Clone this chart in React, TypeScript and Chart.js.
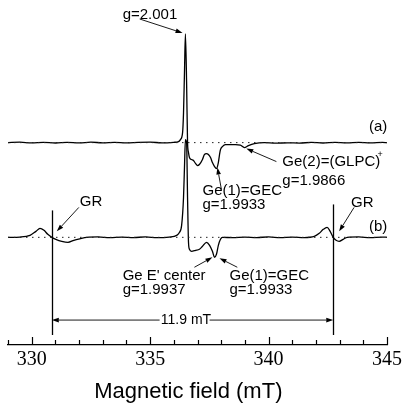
import React, { useEffect, useRef } from "react";
import { Chart, registerables } from "chart.js";
Chart.register(...registerables);

// ---- axis ranges ----
const X_MIN = 329;
const X_MAX = 345;
const Y_MIN = -108;
const Y_MAX = 218;
const majorTicks = [330, 335, 340, 345];

// vertical offsets of the two spectra (arbitrary units)
const offsetA = 95;
const offsetB = 0;

// ---- spectrum (a) ----
const fieldA = [
  329.0, 329.5, 330.0, 330.5, 331.0, 331.5, 332.0, 332.5, 333.0, 333.5, 334.0, 334.5,
  335.0, 335.5, 336.0, 336.2, 336.28, 336.37, 336.41, 336.45, 336.49, 336.54, 336.58,
  336.62, 336.66, 336.75, 336.83, 336.92, 337.0, 337.08, 337.21, 337.29, 337.38, 337.46,
  337.55, 337.63, 337.72, 337.8, 337.88, 337.93, 337.97, 338.05, 338.18, 338.35, 338.6,
  338.81, 338.98, 339.15, 339.4, 339.82, 340.3, 340.8, 341.3, 341.8, 342.3, 342.8, 343.3,
  343.8, 344.3, 344.8, 345.0,
];
const intensityA = [
  0, 0.4, -0.3, 0.3, -0.4, 0.2, -0.3, 0.4, -0.2, 0.3, -0.3, 0.2,
  0.4, -0.2, 0.3, 1, 3, 10, 30, 70, 109, 60, 0,
  -10, -15, -17, -18, -21, -23, -22, -17, -12, -11, -12,
  -15, -20, -24, -26, -20, -12, -7, -4, -2, -2, -2,
  -2.5, -5, -3, -1, 0, -0.6, -0.2, -0.5, 0.2, -0.4, 0.3, -0.2,
  0.3, -0.3, 0.2, 0,
];

// ---- spectrum (b) ----
const fieldB = [
  329.0, 329.5, 329.93, 330.18, 330.35, 330.52, 330.68, 330.85, 331.02, 331.27, 331.53,
  331.78, 332.03, 332.33, 332.8, 333.3, 333.8, 334.3, 334.8, 335.3, 335.8, 336.12, 336.24,
  336.33, 336.41, 336.45, 336.49, 336.54, 336.58, 336.62, 336.66, 336.75, 336.92, 337.08,
  337.21, 337.38, 337.51, 337.63, 337.72, 337.8, 337.88, 337.97, 338.05, 338.5, 339.0,
  339.5, 340.0, 340.5, 341.0, 341.5, 341.93, 342.14, 342.31, 342.47, 342.6, 342.73, 342.85,
  342.98, 343.15, 343.32, 343.8, 344.3, 344.8, 345.0,
];
const intensityB = [
  0, 0.3, 2, 6, 9, 7, 3, 0, -2, -4, -5,
  -3, -1.5, 0, 0.4, -0.3, 0.3, -0.2, 0.4, -0.3, 0.3, 2, 5,
  12, 40, 70, 98, 95, 40, -5, -12, -14, -13, -12,
  -9, -5, -8, -14, -20, -17, -8, -2, 0, -0.3, 0.3,
  -0.2, 0.4, -0.3, 0.2, -0.2, 1, 4, 8, 10, 6, 0, -3,
  -4, -2, 0, 0.4, -0.3, 0.3, 0,
];

// ---- GR marker lines ----
const grLineFields = [330.85, 342.73];
const grLineTops = [27, 33];
const grLineBottom = -98;

// ---- annotation texts (field, intensity units) ----
type Label = { text: string; x: number; y: number; size?: number };
const labels: Label[] = [
  { text: "g=2.001", x: 333.84, y: 223 },
  { text: "(a)", x: 344.24, y: 111 },
  { text: "Ge(2)=(GLPC)", x: 340.58, y: 76 },
  { text: "+", x: 344.6, y: 83, size: 9 },
  { text: "g=1.9866", x: 340.58, y: 57 },
  { text: "Ge(1)=GEC", x: 337.21, y: 47 },
  { text: "g=1.9933", x: 337.21, y: 33 },
  { text: "GR", x: 332.03, y: 36 },
  { text: "GR", x: 343.48, y: 35 },
  { text: "(b)", x: 344.24, y: 11 },
  { text: "Ge E' center", x: 333.84, y: -39 },
  { text: "g=1.9937", x: 333.84, y: -53 },
  { text: "Ge(1)=GEC", x: 338.35, y: -39 },
  { text: "g=1.9933", x: 338.35, y: -53 },
  { text: "11.9 mT", x: 335.45, y: -83, size: 14 },
];

// ---- arrows: from (x1,y1) to head at (x2,y2) ----
type Arrow = { x1: number; y1: number; x2: number; y2: number };
const arrows: Arrow[] = [
  { x1: 334.56, y1: 219, x2: 336.37, y2: 205 },
  { x1: 340.33, y1: 76, x2: 339.06, y2: 89 },
  { x1: 338.01, y1: 48, x2: 337.84, y2: 70 },
  { x1: 331.99, y1: 30, x2: 331.06, y2: 6 },
  { x1: 343.61, y1: 30, x2: 342.98, y2: 6 },
  { x1: 336.87, y1: -30, x2: 337.63, y2: -20 },
  { x1: 338.68, y1: -30, x2: 337.93, y2: -21 },
  { x1: 335.4, y1: -83, x2: 330.85, y2: -83 },
  { x1: 337.51, y1: -83, x2: 342.73, y2: -83 },
];

const SANS = '"Liberation Sans", Arial, sans-serif';

const annotationPlugin = {
  id: "eprAnnotations",
  afterDatasetsDraw(chart: any) {
    const ctx: CanvasRenderingContext2D = chart.ctx;
    const xs = chart.scales.x;
    const ys = chart.scales.y;
    const px = (v: number) => xs.getPixelForValue(v);
    const py = (v: number) => ys.getPixelForValue(v);
    ctx.save();
    ctx.strokeStyle = "#000";
    ctx.fillStyle = "#000";

    // inward tick marks on the field axis
    ctx.lineWidth = 1.2;
    const axisY = chart.chartArea.bottom;
    xs.ticks.forEach((t: any) => {
      const x = Math.round(px(t.value)) + 0.5;
      const len = majorTicks.includes(t.value) ? 8 : 5;
      ctx.beginPath();
      ctx.moveTo(x, axisY);
      ctx.lineTo(x, axisY - len);
      ctx.stroke();
    });

    // GR vertical lines
    ctx.lineWidth = 1.3;
    grLineFields.forEach((f, i) => {
      const x = Math.round(px(f)) + 0.5;
      ctx.beginPath();
      ctx.moveTo(x, py(grLineTops[i]));
      ctx.lineTo(x, py(grLineBottom));
      ctx.stroke();
    });

    // arrows
    ctx.lineWidth = 0.9;
    arrows.forEach((a) => {
      const x1 = px(a.x1), y1 = py(a.y1), x2 = px(a.x2), y2 = py(a.y2);
      const ang = Math.atan2(y2 - y1, x2 - x1);
      const hl = 7, hw = 2.3;
      const bx = x2 - hl * Math.cos(ang), by = y2 - hl * Math.sin(ang);
      ctx.beginPath();
      ctx.moveTo(x1, y1);
      ctx.lineTo(bx, by);
      ctx.stroke();
      ctx.beginPath();
      ctx.moveTo(x2, y2);
      ctx.lineTo(bx + hw * Math.sin(ang), by - hw * Math.cos(ang));
      ctx.lineTo(bx - hw * Math.sin(ang), by + hw * Math.cos(ang));
      ctx.closePath();
      ctx.fill();
    });

    // texts
    ctx.textBaseline = "middle";
    ctx.textAlign = "left";
    labels.forEach((l) => {
      ctx.font = `${l.size ?? 15}px ${SANS}`;
      ctx.fillText(l.text, px(l.x), py(l.y));
    });
    ctx.restore();
  },
};

export default function App() {
  const ref = useRef<HTMLCanvasElement | null>(null);
  useEffect(() => {
    if (!ref.current) return;
    const toPts = (f: number[], v: number[], off: number) =>
      f.slice(0, Math.min(f.length, v.length)).map((x, i) => ({ x, y: v[i] + off }));
    const lineStyle = {
      borderColor: "#000",
      borderWidth: 1.3,
      pointRadius: 0,
      fill: false,
      cubicInterpolationMode: "monotone" as const,
    };
    const dotted = {
      borderColor: "#222",
      borderWidth: 1,
      borderDash: [1.5, 4.5],
      pointRadius: 0,
      fill: false,
    };
    const chart = new Chart(ref.current, {
      type: "line",
      data: {
        datasets: [
          { label: "baseline a", data: [{ x: X_MIN, y: offsetA }, { x: X_MAX, y: offsetA }], ...dotted },
          { label: "baseline b", data: [{ x: X_MIN, y: offsetB }, { x: X_MAX, y: offsetB }], ...dotted },
          { label: "(a)", data: toPts(fieldA, intensityA, offsetA), ...lineStyle },
          { label: "(b)", data: toPts(fieldB, intensityB, offsetB), ...lineStyle },
        ],
      },
      options: {
        animation: false,
        responsive: false,
        events: [],
        layout: { padding: { left: 8, right: 17, top: 20, bottom: 2.0 } },
        plugins: { legend: { display: false }, tooltip: { enabled: false }, title: { display: false } },
        scales: {
          x: {
            type: "linear",
            min: X_MIN,
            max: X_MAX,
            position: "bottom",
            grid: { display: false, drawTicks: false, tickLength: 0 },
            border: { display: true, color: "#000", width: 1.3 },
            ticks: {
              stepSize: 1,
              autoSkip: false,
              maxRotation: 0,
              minRotation: 0,
              padding: 3,
              color: "#000",
              font: { family: '"Liberation Serif", "Times New Roman", serif', size: 20 },
              callback: (v: any) => (Number(v) % 5 === 0 ? String(v) : ""),
            },
            title: {
              display: true,
              text: "Magnetic field (mT)\u00a0\u00a0\u00a0",
              color: "#000",
              padding: { top: 3.6, bottom: 0 },
              font: { family: SANS, size: 22 },
            },
          },
          y: { type: "linear", min: Y_MIN, max: Y_MAX, display: false },
        },
      },
      plugins: [annotationPlugin],
    });
    return () => chart.destroy();
  }, []);
  return (
    <div style={{ position: "absolute", left: 0, top: 0, width: 405, height: 407, background: "#fff" }}>
      <canvas ref={ref} width={405} height={407} />
    </div>
  );
}
